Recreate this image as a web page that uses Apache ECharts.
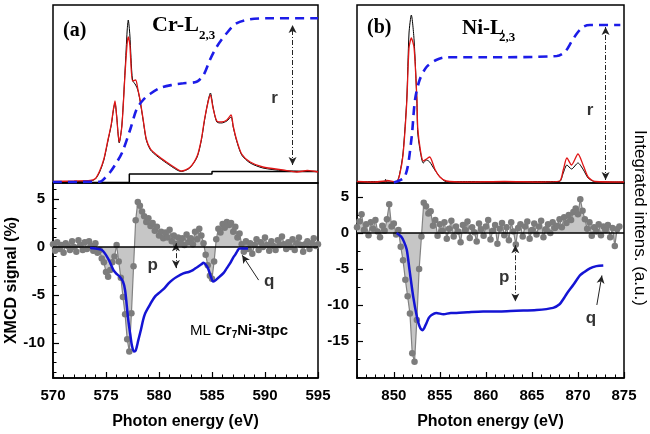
<!DOCTYPE html>
<html><head><meta charset="utf-8">
<script src="https://cdn.jsdelivr.net/npm/echarts@6/dist/echarts.min.js"></script>
<style>html,body{margin:0;padding:0;background:#fff}#c{width:650px;height:434px}</style>
</head><body><div id="c"></div>
<script>
// ---------- Panel (a) Cr-L2,3 : XAS (top, a.u. height) ----------
const xasA_E = [570,572,573.5,574,574.4,574.8,575.2,575.5,575.7,575.85,576,576.25,576.5,576.8,577,577.1,577.25,577.5,577.8,578,578.2,578.5,578.8,579.2,579.8,580.7,581.7,582.1,582.9,583.6,584,584.3,584.65,584.85,585.1,585.45,585.9,586.4,586.8,587,587.3,587.8,588.6,589.8,591.7,593,594,595];
const xasA_black = [1.5,1.5,2,4,11,23,43,58,73,80,68,40,58,113,153,163,148,103,98,93,83,63,43,33,27,20,13,11.5,15,26,43,63,83,90,76,61,60,62,66,56,43,28,20,15,12.3,11.8,11.5,11.5];
const xasA_red = [1.5,2,2.5,4.5,12,24,44,59,74,82,67,41,57,110,140,146,138,102,103,94,84,64,44,34,28,21,14,12,15.5,27,44,64,82,88,75,62,61,63,68,57,44,29,21,16,13,11,12.5,11];
const stepA_E = [570,577.2,577.2,585,585,595];
const stepA_V = [0.5,0.5,9,9,11.5,11.5];
const intA_E = [570,574.4,574.9,575.4,575.85,576.5,577.3,577.9,578.5,579.15,580.1,581.2,582.3,583.55,584.2,584.8,585.45,586.4,587.3,588.6,590.2,595];
const intA_V = [1,1.3,5,11,18,30,54,74,83,89,95,98,99.7,101.3,108,123,136.3,150,159.7,163.7,164.7,164.7];

// ---------- Panel (a) XMCD (%) , 0.2 eV grid from 570 ----------
const xmcdA_start = 570, xmcdA_step = 0.2;
const xmcdA = [
 0.3,-0.4,0.5,-0.2,0.2,-0.6,0.4,0.1,-0.3,0.6,
 0.0,-0.5,0.7,0.2,-0.3,0.5,-0.2,0.6,0.1,-0.4,
 0.4,-0.6,-0.3,-1.2,-1.6,-2.6,-3.1,-2.4,-1.6,-1.0,
 0.2,-1.5,-3.2,-5.2,-7.0,-9.6,-10.9,-6.9,-2.0,2.8,
 4.7,4.3,3.7,3.2,2.6,3.0,2.2,2.5,1.7,2.1,
 1.2,1.6,0.9,1.5,1.0,1.8,0.6,1.2,0.3,1.0,
 0.4,0.9,0.2,1.3,0.5,0.9,0.3,1.6,0.8,1.9,
 1.2,0.4,-0.8,-1.9,-3.0,-3.3,-1.5,0.8,1.9,1.5,
 2.4,2.0,2.6,2.3,2.5,1.6,2.1,1.0,1.4,0.3,
 -0.5,0.6,-0.2,0.4,-0.7,0.2,0.8,-0.3,0.5,0.0,
 1.0,0.2,-0.4,0.6,0.1,-0.3,0.7,0.2,1.1,0.3,
 -0.2,0.5,0.0,0.8,-0.3,0.4,1.0,0.2,-0.5,0.3,
 0.6,-0.2,0.4,0.9,0.1,0.3];
const intXA_E = [573.5,574,574.6,575.2,575.7,576,576.3,576.6,576.8,576.95,577.1,577.3,577.45,577.65,577.8,578.05,578.3,578.5,578.7,579.15,579.6,580.1,580.5,580.9,581.3,581.7,582.3,582.8,583.2,583.6,584,584.2,584.45,584.65,584.9,585.1,585.3,585.6,586.1,586.4,586.7,587,587.2,587.4,587.6,588.4];
const intXA_V = [-0.1,-0.15,-0.3,-1.2,-2.4,-2.8,-3.1,-3.6,-4.5,-6,-7.6,-9.2,-10.3,-10.9,-10.8,-9.7,-8.6,-7.6,-6.9,-6,-5.2,-4.7,-4.3,-3.8,-3.4,-3.1,-2.75,-2.6,-2.4,-2.1,-1.8,-1.65,-1.9,-2.3,-3.1,-3.6,-3.5,-3.2,-2.7,-2.2,-1.7,-1.1,-0.8,-0.4,-0.15,-0.15];

// ---------- Panel (b) Ni-L2,3 : XAS ----------
const xasB_E = [846,848,849,849.1,849.25,850.3,850.65,851,851.4,851.65,851.9,852.2,852.5,852.6,852.9,853.2,853.55,853.9,854.45,855,855.7,858,862,866,868,868.4,868.8,869.3,870,870.6,871.1,871.85,875];
const xasB_black = [1,1.5,1,3.7,1,1.5,10,30,83,150,168,143,83,50,30,20,23,21,13,6.3,1.3,1.5,1,1.5,1.5,10,18,14,20,13,5,1.3,1];
const xasB_red = [1.5,1,2,1.5,2.5,1,9,28,80,135,145,135,85,55,32,22,24,26,14,6,2,1,1.5,1,2,13,25,18,29,17,6,1.5,1];
const intB_E = [850,851.2,851.9,852.3,852.8,853.55,854.6,855.7,859.7,867.7,868.6,869.3,869.9,870.6,871.3,874.6];
const intB_V = [0.5,6.3,43,83,103,116,123,125.7,125.7,127,131.3,141.3,149.7,156.3,158,158];

// ---------- Panel (b) XMCD (%) , 0.25 eV grid from 846 ----------
const xmcdB_start = 846, xmcdB_step = 0.25;
const xmcdB = [
 0.8,1.6,2.6,0.4,1.2,-0.3,1.5,0.6,
 1.8,0.2,-0.6,1.0,0.3,1.9,4.0,0.9,
 1.3,-0.2,0.4,-1.9,-3.8,-6.5,-8.8,-11.2,
 -16.7,-17.9,-12.1,-5.0,-0.5,4.2,3.7,2.7,
 3.0,1.0,1.8,-0.4,1.2,0.3,1.5,-0.8,
 0.6,1.7,-0.5,0.9,0.2,-1.3,1.1,0.4,
 1.6,-0.7,0.8,0.1,-1.2,1.3,0.5,-0.4,
 0.9,1.8,-0.9,0.3,1.1,-1.5,0.6,1.4,
 -0.3,0.8,-1.0,1.5,0.2,-1.6,0.7,1.2,
 -0.5,0.9,1.6,-0.8,0.4,1.3,-0.2,0.9,
 1.7,-0.6,0.5,1.2,0.0,1.5,0.7,1.0,
 1.9,0.8,2.2,1.4,2.5,1.8,2.9,3.4,
 2.6,4.7,3.1,1.9,0.6,1.5,-0.4,0.8,
 0.2,1.2,-0.3,0.9,0.4,1.1,-0.6,0.7,
 -1.8,0.5,0.9];
const intXB_E = [850.3,850.8,851.1,851.4,851.7,852.1,852.5,852.8,853.1,853.3,853.55,853.8,854.1,854.6,855.4,856.2,856.8,858,859.7,861.5,863.3,865.5,867.3,868,868.4,868.8,869.5,870.2,870.6,871.3,872,872.75];
const intXB_V = [0,-0.5,-1.2,-2.3,-5.1,-8.8,-11.6,-13,-13.5,-13.2,-12.5,-11.8,-11.4,-11.1,-11.3,-11.1,-11.1,-11,-10.9,-10.9,-10.8,-10.7,-10.4,-9.9,-9.2,-8.4,-7.2,-5.9,-5.5,-4.9,-4.6,-4.5];

// ---------- ticks ----------
const xTicksA_major = [570,575,580,585,590,595];
const xTicksB_major = [850,855,860,865,870,875];
const xTicksB_minor = [846,847,848,849,850,851,852,853,854,855,856,857,858,859,860,861,862,863,864,865,866,867,868,869,870,871,872,873,874,875];
const yTicksA_major = [-10,-5,0,5];
const yTicksA_minor = [-13,-12,-11,-10,-9,-8,-7,-6,-5,-4,-3,-2,-1,0,1,2,3,4,5,6];
const yTicksB_major = [-15,-10,-5,0,5];
const yTicksB_minor = [-20,-17.5,-15,-12.5,-10,-7.5,-5,-2.5,0,2.5,5];

// ---------- annotations (data coords) ----------
const annTopA = [[590.9,85,'r']];
const annBotA = [[579.4,-1.9,'p'],[590.4,-3.55,'q']];
const annTopB = [[871.3,73,'r']];
const annBotB = [[862.0,-6.1,'p'],[871.4,-11.8,'q']];

const FONT = "'Liberation Sans', Arial, sans-serif";
const SERIF = "'Liberation Serif', 'Times New Roman', serif";
const pairs = (xs, ys) => xs.map((x, i) => [x, ys[i]]);
const onGrid = (s, d, vals) => vals.map((v, i) => [+(s + i * d).toFixed(3), v]);

const chart = echarts.init(document.getElementById('c'), null, {renderer: 'canvas'});

const border = {show: true, borderColor: '#000', borderWidth: 1.5, backgroundColor: 'rgba(0,0,0,0)'};
const lbl = {color: '#000', fontSize: 15, fontWeight: 'bold', fontFamily: FONT};
const nameStyle = {color: '#000', fontSize: 16, fontWeight: 'bold', fontFamily: FONT};
const hiddenX = (g, mn, mx) => ({gridIndex: g, type: 'value', min: mn, max: mx, show: false});
const hiddenY = g => ({gridIndex: g, type: 'value', min: 0, max: 178, show: false});
const axLine = {show: true, onZero: false, lineStyle: {color: '#000', width: 1.5}};
const noLine = {show: false, onZero: false};

const annSeries = (xi, yi, data, lines) => ({
  type: 'scatter', xAxisIndex: xi, yAxisIndex: yi, data: data, symbolSize: 1,
  itemStyle: {color: 'rgba(0,0,0,0)'}, z: 10, silent: true,
  label: {show: true, position: 'inside', formatter: p => p.data[2], color: '#000', fontSize: 17, fontWeight: 'bold', fontFamily: FONT},
  markLine: {silent: true, animation: false, label: {show: false}, symbolSize: [6, 8], data: lines}
});
const dd = {type: [5, 2, 1, 2], color: '#222', width: 1};

const option = {
  animation: false,
  grid: [
    Object.assign({left: 53, top: 5, width: 265, height: 178}, border),
    Object.assign({left: 53, top: 183, width: 265, height: 195}, border),
    Object.assign({left: 357, top: 5, width: 267, height: 178}, border),
    Object.assign({left: 357, top: 183, width: 267, height: 195}, border)
  ],
  xAxis: [
    hiddenX(0, 570, 595),
    {gridIndex: 1, type: 'value', min: 570, max: 595, interval: 5, position: 'bottom',
     axisLine: axLine, splitLine: {show: false},
     axisTick: {inside: true, length: 6, lineStyle: {color: '#000', width: 1.2}},
     minorTick: {show: true, splitNumber: 5, length: 3.5, lineStyle: {color: '#000', width: 1}},
     minorSplitLine: {show: false},
     axisLabel: Object.assign({margin: 10}, lbl),
     name: 'Photon energy (eV)', nameLocation: 'middle', nameGap: 36, nameTextStyle: nameStyle},
    hiddenX(2, 846, 875),
    {gridIndex: 3, type: 'value', min: 846, max: 875, position: 'bottom',
     axisLine: axLine, splitLine: {show: false},
     axisTick: {inside: true, length: 3.5, customValues: xTicksB_minor, lineStyle: {color: '#000', width: 1}},
     axisLabel: Object.assign({margin: 10, customValues: xTicksB_major}, lbl),
     name: 'Photon energy (eV)', nameLocation: 'middle', nameGap: 36, nameTextStyle: nameStyle},
    {gridIndex: 3, type: 'value', min: 846, max: 875, position: 'bottom',
     axisLine: noLine, splitLine: {show: false}, axisLabel: {show: false},
     axisTick: {inside: true, length: 6, customValues: xTicksB_major, lineStyle: {color: '#000', width: 1.2}}}
  ],
  yAxis: [
    hiddenY(0),
    {gridIndex: 1, type: 'value', min: -13.65, max: 6.67, position: 'left',
     axisLine: axLine, splitLine: {show: false},
     axisTick: {inside: true, length: 3.5, customValues: yTicksA_minor, lineStyle: {color: '#000', width: 1}},
     axisLabel: Object.assign({margin: 8, customValues: yTicksA_major}, lbl),
     name: 'XMCD signal (%)', nameLocation: 'middle', nameGap: 33, nameTextStyle: nameStyle},
    {gridIndex: 1, type: 'value', min: -13.65, max: 6.67, position: 'left',
     axisLine: noLine, splitLine: {show: false}, axisLabel: {show: false},
     axisTick: {inside: true, length: 6, customValues: yTicksA_major, lineStyle: {color: '#000', width: 1.2}}},
    hiddenY(2),
    {gridIndex: 3, type: 'value', min: -20.14, max: 6.94, position: 'left',
     axisLine: axLine, splitLine: {show: false},
     axisTick: {inside: true, length: 3.5, customValues: yTicksB_minor, lineStyle: {color: '#000', width: 1}},
     axisLabel: Object.assign({margin: 8, customValues: yTicksB_major}, lbl)},
    {gridIndex: 3, type: 'value', min: -20.14, max: 6.94, position: 'left',
     axisLine: noLine, splitLine: {show: false}, axisLabel: {show: false},
     axisTick: {inside: true, length: 6, customValues: yTicksB_major, lineStyle: {color: '#000', width: 1.2}}}
  ],
  series: [
    // ----- panel a top -----
    {type: 'line', xAxisIndex: 0, yAxisIndex: 0, data: pairs(stepA_E, stepA_V), symbol: 'none',
     lineStyle: {color: '#000', width: 1.5}, z: 2},
    {type: 'line', xAxisIndex: 0, yAxisIndex: 0, data: pairs(xasA_E, xasA_black), symbol: 'none', smooth: 0.25,
     lineStyle: {color: '#000', width: 1}, z: 3},
    {type: 'line', xAxisIndex: 0, yAxisIndex: 0, data: pairs(xasA_E, xasA_red), symbol: 'none', smooth: 0.25,
     lineStyle: {color: '#e01515', width: 1.3}, z: 4},
    {type: 'line', xAxisIndex: 0, yAxisIndex: 0, data: pairs(intA_E, intA_V), symbol: 'none', smooth: 0.3,
     lineStyle: {color: '#1c1ce8', width: 2.6, type: [9, 6]}, z: 5},
    annSeries(0, 0, annTopA, [[{coord: [592.6, 18], symbol: 'arrow', lineStyle: dd}, {coord: [592.6, 158], symbol: 'arrow'}]]),
    // ----- panel a bottom -----
    {type: 'line', xAxisIndex: 1, yAxisIndex: 1, data: onGrid(xmcdA_start, xmcdA_step, xmcdA),
     symbol: 'circle', symbolSize: 6.5, showAllSymbol: true,
     itemStyle: {color: '#7c7c7c'}, lineStyle: {color: '#828282', width: 1.2},
     areaStyle: {color: '#c6c6c6', opacity: 1, origin: 'auto'}, z: 2},
    {type: 'line', xAxisIndex: 1, yAxisIndex: 1, data: [[570, 0], [595, 0]], symbol: 'none',
     lineStyle: {color: '#000', width: 1.5}, z: 6},
    {type: 'line', xAxisIndex: 1, yAxisIndex: 1, data: pairs(intXA_E, intXA_V), symbol: 'none', smooth: 0.3,
     lineStyle: {color: '#1414d4', width: 2.5}, z: 7},
    annSeries(1, 1, annBotA, [
      [{coord: [581.6, 0.4], symbol: 'arrow', lineStyle: dd}, {coord: [581.6, -2.2], symbol: 'arrow'}],
      [{coord: [589.4, -3.45], symbol: 'none', lineStyle: {type: 'solid', color: '#222', width: 1}}, {coord: [587.85, -0.85], symbol: 'arrow'}]
    ]),
    // ----- panel b top -----
    {type: 'line', xAxisIndex: 2, yAxisIndex: 3, data: pairs(xasB_E, xasB_black), symbol: 'none', smooth: 0.25,
     lineStyle: {color: '#000', width: 1}, z: 3},
    {type: 'line', xAxisIndex: 2, yAxisIndex: 3, data: pairs(xasB_E, xasB_red), symbol: 'none', smooth: 0.25,
     lineStyle: {color: '#e01515', width: 1.3}, z: 4},
    {type: 'line', xAxisIndex: 2, yAxisIndex: 3, data: pairs(intB_E, intB_V), symbol: 'none', smooth: 0.3,
     lineStyle: {color: '#1c1ce8', width: 2.6, type: [9, 6]}, z: 5},
    annSeries(2, 3, annTopB, [[{coord: [873.0, 3], symbol: 'arrow', lineStyle: dd}, {coord: [873.0, 156], symbol: 'arrow'}]]),
    // ----- panel b bottom -----
    {type: 'line', xAxisIndex: 3, yAxisIndex: 4, data: onGrid(xmcdB_start, xmcdB_step, xmcdB),
     symbol: 'circle', symbolSize: 6.5, showAllSymbol: true,
     itemStyle: {color: '#7c7c7c'}, lineStyle: {color: '#828282', width: 1.2},
     areaStyle: {color: '#c6c6c6', opacity: 1, origin: 'auto'}, z: 2},
    {type: 'line', xAxisIndex: 3, yAxisIndex: 4, data: [[846, 0], [875, 0]], symbol: 'none',
     lineStyle: {color: '#000', width: 1.5}, z: 6},
    {type: 'line', xAxisIndex: 3, yAxisIndex: 4, data: pairs(intXB_E, intXB_V), symbol: 'none', smooth: 0.3,
     lineStyle: {color: '#1414d4', width: 2.5}, z: 7},
    annSeries(3, 4, annBotB, [
      [{coord: [863.2, -1.7], symbol: 'arrow', lineStyle: dd}, {coord: [863.2, -9.5], symbol: 'arrow'}],
      [{coord: [872.05, -10.0], symbol: 'none', lineStyle: {type: 'solid', color: '#222', width: 1}}, {coord: [872.6, -5.9], symbol: 'arrow'}]
    ])
  ],
  graphic: [
    {type: 'text', x: 63, y: 31, style: {text: '(a)', font: 'bold 20px ' + SERIF, fill: '#000', textVerticalAlign: 'middle', verticalAlign: 'middle'}},
    {type: 'text', x: 152, y: 25, style: {text: 'Cr-L', font: 'bold 22px ' + SERIF, fill: '#000', textVerticalAlign: 'middle', verticalAlign: 'middle'}},
    {type: 'text', x: 199, y: 36, style: {text: '2,3', font: 'bold 13px ' + SERIF, fill: '#000', textVerticalAlign: 'middle', verticalAlign: 'middle'}},
    {type: 'text', x: 367, y: 28, style: {text: '(b)', font: 'bold 20px ' + SERIF, fill: '#000', textVerticalAlign: 'middle', verticalAlign: 'middle'}},
    {type: 'text', x: 462, y: 29, style: {text: 'Ni-L', font: 'bold 21px ' + SERIF, fill: '#000', textVerticalAlign: 'middle', verticalAlign: 'middle'}},
    {type: 'text', x: 499, y: 38, style: {text: '2,3', font: 'bold 13px ' + SERIF, fill: '#000', textVerticalAlign: 'middle', verticalAlign: 'middle'}},
    {type: 'text', x: 190, y: 331, style: {
      text: '{n|ML }{b|Cr}{s|7}{b|Ni-3tpc}', verticalAlign: 'middle', textVerticalAlign: 'middle',
      rich: {
        n: {fontFamily: FONT, fontSize: 15, fill: '#000', color: '#000'},
        b: {fontFamily: FONT, fontSize: 15, fontWeight: 'bold', fill: '#000', color: '#000'},
        s: {fontFamily: FONT, fontSize: 10, fontWeight: 'bold', fill: '#000', color: '#000', padding: [9, 0, 0, 0]}
      }}},
    {type: 'text', x: 640, y: 218, rotation: -Math.PI / 2, style: {text: 'Integrated intens. (a.u.)', font: '17px ' + FONT, fill: '#000', align: 'center', textAlign: 'center', verticalAlign: 'middle', textVerticalAlign: 'middle'}}
  ]
};
chart.setOption(option);
</script></body></html>
